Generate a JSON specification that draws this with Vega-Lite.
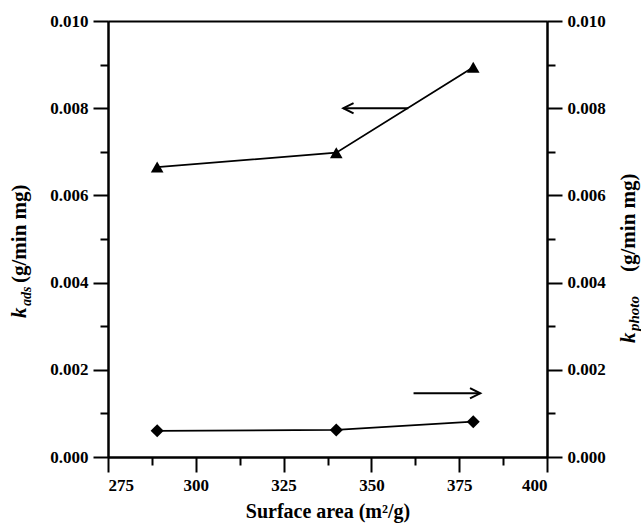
{
  "$schema": "https://vega.github.io/schema/vega-lite/v6.json",
  "width": 439,
  "height": 436,
  "autosize": "none",
  "padding": {"left": 108, "top": 21, "right": 94, "bottom": 69},
  "background": "white",
  "config": {
    "view": {"stroke": null},
    "axis": {
      "labelFont": "Times New Roman, serif",
      "labelFontWeight": "bold",
      "labelFontSize": 17,
      "labelColor": "black",
      "domainColor": "black",
      "domainWidth": 2,
      "tickColor": "black",
      "tickWidth": 2,
      "grid": false,
      "titleFont": "Times New Roman, serif",
      "titleFontWeight": "bold",
      "titleFontSize": 20,
      "titleColor": "black"
    }
  },
  "datasets": {
    "ads": [
      {"area": 289, "k": 0.00665},
      {"area": 340, "k": 0.00698},
      {"area": 379, "k": 0.00894}
    ],
    "photo": [
      {"area": 289, "k": 0.00060},
      {"area": 340, "k": 0.00062},
      {"area": 379, "k": 0.00081}
    ],
    "arrowLeft": [{"from": 360.5, "to": 342, "k": 0.008}],
    "arrowRight": [{"from": 362, "to": 381, "k": 0.00146}]
  },
  "resolve": {"axis": {"x": "independent", "y": "independent"}},
  "layer": [
    {
      "data": {"name": "ads"},
      "mark": {"type": "line", "color": "black", "strokeWidth": 1.8},
      "encoding": {
        "x": {"field": "area", "type": "quantitative", "scale": {"domain": [275, 400], "nice": false, "zero": false},
          "axis": {"orient": "bottom", "values": [275, 300, 325, 350, 375, 400], "tickSize": 15, "labelPadding": 5, "title": "Surface area (m²/g)", "titlePadding": 8}},
        "y": {"field": "k", "type": "quantitative", "scale": {"domain": [0, 0.01], "nice": false, "zero": true},
          "axis": {"orient": "left", "values": [0, 0.002, 0.004, 0.006, 0.008, 0.01], "format": ".3f", "tickSize": 15, "labelPadding": 5, "title": null}}
      }
    },
    {
      "data": {"name": "ads"},
      "mark": {"type": "point", "shape": "triangle-up", "filled": true, "color": "black", "size": 160, "opacity": 1},
      "encoding": {
        "x": {"field": "area", "type": "quantitative", "scale": {"domain": [275, 400], "nice": false, "zero": false},
          "axis": {"orient": "bottom", "values": [287.5, 312.5, 337.5, 362.5, 387.5], "tickSize": 8, "labels": false, "title": null}},
        "y": {"field": "k", "type": "quantitative", "scale": {"domain": [0, 0.01], "nice": false},
          "axis": {"orient": "left", "values": [0.001, 0.003, 0.005, 0.007, 0.009], "tickSize": 8, "labels": false, "title": null}}
      }
    },
    {
      "data": {"name": "photo"},
      "mark": {"type": "line", "color": "black", "strokeWidth": 1.8},
      "encoding": {
        "x": {"field": "area", "type": "quantitative", "scale": {"domain": [275, 400], "nice": false, "zero": false},
          "axis": {"orient": "top", "ticks": false, "labels": false, "title": null}},
        "y": {"field": "k", "type": "quantitative", "scale": {"domain": [0, 0.01], "nice": false},
          "axis": {"orient": "right", "values": [0, 0.002, 0.004, 0.006, 0.008, 0.01], "format": ".3f", "tickSize": 15, "labelPadding": 5, "title": null}}
      }
    },
    {
      "data": {"name": "photo"},
      "mark": {"type": "point", "shape": "diamond", "filled": true, "color": "black", "size": 170, "opacity": 1},
      "encoding": {
        "x": {"field": "area", "type": "quantitative", "scale": {"domain": [275, 400], "nice": false, "zero": false}, "axis": null},
        "y": {"field": "k", "type": "quantitative", "scale": {"domain": [0, 0.01], "nice": false},
          "axis": {"orient": "right", "values": [0.001, 0.003, 0.005, 0.007, 0.009], "tickSize": 8, "labels": false, "title": null}}
      }
    },
    {
      "data": {"name": "arrowLeft"},
      "mark": {"type": "rule", "color": "black", "strokeWidth": 2},
      "encoding": {
        "x": {"field": "from", "type": "quantitative", "axis": null},
        "x2": {"field": "to"},
        "y": {"field": "k", "type": "quantitative", "axis": null}
      }
    },
    {
      "data": {"name": "arrowLeft"},
      "mark": {"type": "point", "shape": "M1,-0.5L0,0L1,0.5", "filled": false, "stroke": "black", "strokeWidth": 2, "size": 420, "opacity": 1},
      "encoding": {
        "x": {"field": "to", "type": "quantitative", "axis": null},
        "y": {"field": "k", "type": "quantitative", "axis": null}
      }
    },
    {
      "data": {"name": "arrowRight"},
      "mark": {"type": "rule", "color": "black", "strokeWidth": 2},
      "encoding": {
        "x": {"field": "from", "type": "quantitative", "axis": null},
        "x2": {"field": "to"},
        "y": {"field": "k", "type": "quantitative", "axis": null}
      }
    },
    {
      "data": {"name": "arrowRight"},
      "mark": {"type": "point", "shape": "M-1,-0.5L0,0L-1,0.5", "filled": false, "stroke": "black", "strokeWidth": 2, "size": 420, "opacity": 1},
      "encoding": {
        "x": {"field": "to", "type": "quantitative", "axis": null},
        "y": {"field": "k", "type": "quantitative", "axis": null}
      }
    },
    {
      "data": {"values": [{}]},
      "mark": {"type": "text", "text": "k", "angle": 270, "align": "left", "baseline": "alphabetic", "dx": -79, "dy": -82, "font": "Times New Roman, serif", "fontWeight": "bold", "fontStyle": "italic", "fontSize": 21, "color": "black"},
      "encoding": {"x": {"datum": 275, "type": "quantitative", "axis": null}, "y": {"datum": 0.005, "type": "quantitative", "axis": null}}
    },
    {
      "data": {"values": [{}]},
      "mark": {"type": "text", "text": "ads", "angle": 270, "align": "left", "baseline": "alphabetic", "dx": -67, "dy": -77, "font": "Times New Roman, serif", "fontWeight": "bold", "fontStyle": "italic", "fontSize": 14, "color": "black"},
      "encoding": {"x": {"datum": 275, "type": "quantitative", "axis": null}, "y": {"datum": 0.005, "type": "quantitative", "axis": null}}
    },
    {
      "data": {"values": [{}]},
      "mark": {"type": "text", "text": "(g/min mg)", "angle": 270, "align": "left", "baseline": "alphabetic", "dx": -44, "dy": -82, "font": "Times New Roman, serif", "fontWeight": "bold", "fontSize": 21, "color": "black"},
      "encoding": {"x": {"datum": 275, "type": "quantitative", "axis": null}, "y": {"datum": 0.005, "type": "quantitative", "axis": null}}
    },
    {
      "data": {"values": [{}]},
      "mark": {"type": "text", "text": "k", "angle": 270, "align": "left", "baseline": "alphabetic", "dx": -104, "dy": 88, "font": "Times New Roman, serif", "fontWeight": "bold", "fontStyle": "italic", "fontSize": 21, "color": "black"},
      "encoding": {"x": {"datum": 400, "type": "quantitative", "axis": null}, "y": {"datum": 0.005, "type": "quantitative", "axis": null}}
    },
    {
      "data": {"values": [{}]},
      "mark": {"type": "text", "text": "photo", "angle": 270, "align": "left", "baseline": "alphabetic", "dx": -92, "dy": 92, "font": "Times New Roman, serif", "fontWeight": "bold", "fontStyle": "italic", "fontSize": 15, "color": "black"},
      "encoding": {"x": {"datum": 400, "type": "quantitative", "axis": null}, "y": {"datum": 0.005, "type": "quantitative", "axis": null}}
    },
    {
      "data": {"values": [{}]},
      "mark": {"type": "text", "text": "(g/min mg)", "angle": 270, "align": "left", "baseline": "alphabetic", "dx": -33, "dy": 88, "font": "Times New Roman, serif", "fontWeight": "bold", "fontSize": 21, "color": "black"},
      "encoding": {"x": {"datum": 400, "type": "quantitative", "axis": null}, "y": {"datum": 0.005, "type": "quantitative", "axis": null}}
    }
  ]
}
